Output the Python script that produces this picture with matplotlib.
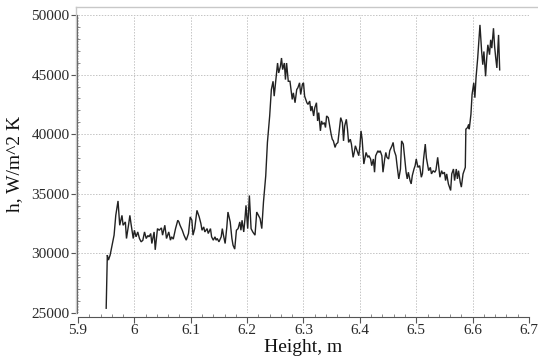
import matplotlib
matplotlib.use("Agg")
import matplotlib.pyplot as plt
from matplotlib.lines import Line2D
from matplotlib.ticker import MultipleLocator

height_m = [
5.950,5.952,5.954,5.957,5.960,5.964,5.967,5.971,5.974,5.978,5.980,5.984,5.986,5.990,5.992,5.994,5.998,
6.000,6.003,6.006,6.009,6.012,6.015,6.018,6.021,6.024,6.026,6.029,6.031,6.035,6.037,6.041,6.044,6.048,
6.050,6.054,6.057,6.061,6.064,6.066,6.069,6.073,6.077,6.079,6.081,6.085,6.088,6.092,6.096,6.099,6.102,
6.104,6.107,6.111,6.115,6.118,6.120,6.123,6.125,6.129,6.131,6.135,6.137,6.140,6.143,6.145,6.147,6.150,
6.154,6.156,6.158,6.161,6.164,6.166,6.170,6.173,6.175,6.178,6.181,6.184,6.187,6.189,6.191,6.194,6.196,
6.198,6.201,6.204,6.207,6.210,6.214,6.217,6.220,6.223,6.226,6.229,6.233,6.236,6.240,6.243,6.246,6.248,
6.251,6.254,6.256,6.259,6.261,6.263,6.266,6.268,6.270,6.273,6.276,6.280,6.282,6.285,6.288,6.290,6.293,
6.295,6.298,6.300,6.302,6.306,6.308,6.311,6.313,6.315,6.318,6.320,6.323,6.325,6.327,6.330,6.332,6.334,
6.337,6.339,6.341,6.344,6.346,6.349,6.351,6.353,6.356,6.358,6.361,6.364,6.366,6.369,6.371,6.373,6.376,
6.378,6.380,6.383,6.385,6.388,6.390,6.392,6.395,6.398,6.400,6.402,6.404,6.407,6.411,6.414,6.416,6.419,
6.421,6.424,6.426,6.428,6.432,6.434,6.436,6.439,6.441,6.444,6.446,6.448,6.451,6.453,6.457,6.459,6.461,
6.464,6.466,6.469,6.472,6.474,6.477,6.479,6.482,6.484,6.486,6.489,6.491,6.493,6.496,6.498,6.500,6.503,
6.506,6.509,6.511,6.513,6.516,6.518,6.522,6.525,6.527,6.530,6.533,6.535,6.538,6.540,6.542,6.545,6.547,
6.550,6.552,6.554,6.557,6.559,6.561,6.563,6.566,6.568,6.571,6.573,6.575,6.578,6.580,6.583,6.585,6.587,
6.588,6.591,6.593,6.594,6.597,6.599,6.602,6.604,6.606,6.609,6.611,6.613,6.616,6.618,6.620,6.623,6.625,
6.627,6.630,6.632,6.634,6.637,6.639,6.641,6.643,6.646,6.648,
]

h_coef = [
25400,29860,29440,29860,30580,31530,33190,34400,32360,33190,32360,32640,31250,32500,33190,32500,31250,
31940,31390,31800,31250,30970,31100,31800,31250,31500,31390,31670,30830,31800,30300,32080,31940,32140,
31530,32360,31250,31800,31110,31390,31200,32080,32780,32640,32360,31940,31530,31110,31670,33060,32780,
31530,32080,33610,33060,32500,31940,32220,31800,32080,31670,32080,31390,31110,31390,31110,31250,30970,
31390,32080,31530,30830,32220,33470,32640,31250,30690,30360,31940,32080,32640,31940,32780,31800,32800,
34030,32080,34860,32080,31800,31530,33470,33190,32920,32080,34310,36500,39310,41530,43750,44440,43190,
44580,45970,45140,45690,46390,45420,45970,44580,45970,44440,44440,42920,43470,42640,43750,43890,44310,
43330,44170,44310,43190,42640,42500,42780,41940,42360,41530,42220,42640,41110,41810,40280,41110,40830,
40970,40560,41530,41390,40830,40000,39580,39440,38890,39170,39300,40560,41390,40970,39440,40690,41250,
40420,39310,39580,39170,38060,38470,39030,38610,38200,39000,40280,39580,37500,38470,38060,38200,37920,
37360,37920,36810,38190,38610,38470,38610,38190,36810,37920,38470,38060,37920,38610,39030,39310,38610,
38190,37360,36250,37080,39440,39170,38190,36810,36250,36810,36110,35830,36530,37080,37360,37920,37220,
37360,36390,36700,37920,39170,38000,36940,37220,36670,36940,36810,37000,38060,37220,36390,36940,36670,
36810,36110,36670,35830,35560,35280,36670,37080,36110,37080,36250,36940,35970,35560,36670,36940,37220,
40420,40560,40830,40420,41670,43330,44310,43060,44720,46390,47780,49170,46940,45830,46940,44860,46390,
47500,46670,47920,47220,48890,47360,46390,45560,48330,45400,
]

x_ticks = [5.9, 6.0, 6.1, 6.2, 6.3, 6.4, 6.5, 6.6, 6.7]
x_tick_labels = ["5.9", "6", "6.1", "6.2", "6.3", "6.4", "6.5", "6.6", "6.7"]
y_ticks = [25000, 30000, 35000, 40000, 45000, 50000]
y_tick_labels = ["25000", "30000", "35000", "40000", "45000", "50000"]

plt.rcParams['font.family'] = ['Liberation Serif', 'DejaVu Serif']

W, H = 538, 361
fig = plt.figure(figsize=(W / 100, H / 100), dpi=100)
ax = fig.add_axes([78 / W, 1 - 313 / H, (529 - 78) / W, (313 - 15) / H])

ax.plot(height_m, h_coef, color='#222222', lw=1.0, solid_joinstyle='miter')

ax.set_xlim(5.9, 6.7)
ax.set_ylim(25000, 50000)
ax.set_xticks(x_ticks)
ax.set_xticklabels(x_tick_labels)
ax.set_yticks(y_ticks)
ax.set_yticklabels(y_tick_labels)
ax.xaxis.set_minor_locator(MultipleLocator(0.02))
ax.yaxis.set_minor_locator(MultipleLocator(1000))

ax.grid(True, which='major', color='#c4c4c4', lw=0.7, linestyle=(0, (1.5, 1.5)))
ax.set_axisbelow(True)

for s in ['top', 'right']:
    ax.spines[s].set_visible(False)
ax.spines['left'].set_position(('outward', 1))
ax.spines['bottom'].set_position(('outward', 3))
ax.spines['left'].set_color('#555555')
ax.spines['bottom'].set_color('#555555')
ax.spines['left'].set_linewidth(0.8)
ax.spines['bottom'].set_linewidth(0.8)

ax.tick_params(axis='both', which='major', length=4, width=0.8, color='#555555',
               labelsize=11, labelcolor='#2a2a2a', direction='out')
ax.tick_params(axis='both', which='minor', length=2.5, width=0.6, color='#777777',
               direction='in')
ax.tick_params(axis='x', which='major', pad=1)
ax.tick_params(axis='y', which='major', pad=1)

ax.set_xlabel("Height, m", fontsize=14, color='#111111', labelpad=1)
ax.set_ylabel("h, W/m^2 K", fontsize=14, color='#111111', labelpad=6)

# outer gray frame (top and left)
fig.add_artist(Line2D([76 / W, 1.0], [1 - 7 / H, 1 - 7 / H], color='#c8c8c8', lw=1.0))
fig.add_artist(Line2D([76 / W, 76 / W], [1 - 7 / H, 1 - 313 / H], color='#c8c8c8', lw=1.0))

fig.savefig("out.png", dpi=100)
